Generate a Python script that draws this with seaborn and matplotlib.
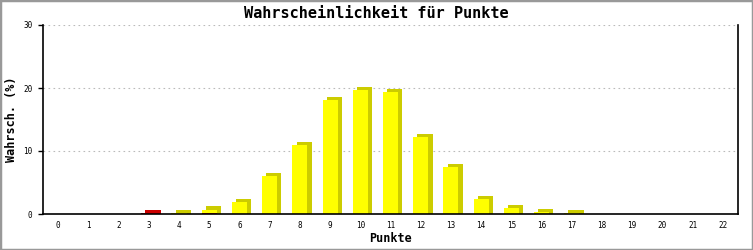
import numpy as np
import pandas as pd
import matplotlib
matplotlib.use("Agg")
import matplotlib.pyplot as plt
import seaborn as sns
from matplotlib.patches import Rectangle

# ---- data ----
punkte = list(range(23))
gelb = [0, 0, 0, 0, 0.1, 0.6, 1.9, 6.0, 11.0, 18.1, 19.7, 19.35, 12.2, 7.4, 2.4, 1.0, 0.25, 0.1, 0, 0, 0, 0, 0]
rot = [0, 0, 0, 0.08, 0, 0.1, 0, 0, 0, 0, 0, 0, 0, 0, 0, 0, 0, 0, 0, 0, 0, 0, 0]
y_ticks = [0, 10, 20, 30]

title = "Wahrscheinlichkeit für Punkte"
xlabel = "Punkte"
ylabel = "Wahrsch. (%)"

sns.set_style("white")
plt.rcParams['font.family'] = ['DejaVu Sans Mono', 'DejaVu Sans']
plt.rcParams.update({"text.color": "black", "axes.labelcolor": "black",
                     "xtick.color": "black", "ytick.color": "black"})

DX, DY = 0.14, 0.5
YELLOW, YELLOW_D = "#FFFF00", "#CCCC00"
RED, RED_D = "#CC0000", "#CC0000"

g = np.array(gelb)
r = np.array(rot)
tot = g + r
df = pd.DataFrame({
    "x": punkte,
    "x_back": np.array(punkte) + DX,
    "total": tot,
    "rot": r,
    "back_y": np.where(g > 0, tot + DY, 0.0),
    "back_r": np.where((g == 0) & (r > 0), tot + DY, 0.0),
})

fig = plt.figure(figsize=(7.53, 2.5), dpi=100)
ax = fig.add_axes([43 / 753, 1 - 214 / 250, (738 - 43) / 753, (214 - 25) / 250])

kw = dict(native_scale=True, width=0.5, linewidth=0, saturation=1, legend=False, errorbar=None)
sns.barplot(data=df, x="x_back", y="back_y", color=YELLOW_D, ax=ax, zorder=2, **kw)
sns.barplot(data=df, x="x_back", y="back_r", color=RED_D, ax=ax, zorder=2, **kw)
sns.barplot(data=df, x="x", y="total", color=YELLOW, ax=ax, zorder=3, **kw)
sns.barplot(data=df, x="x", y="rot", color=RED, ax=ax, zorder=4, **kw)

ax.set_xlim(-0.5, 22.5)
ax.set_ylim(0, 30)
ax.set_xticks(punkte)
ax.set_xticklabels([str(p) for p in punkte])
ax.set_yticks(y_ticks)
ax.set_yticklabels([str(t) for t in y_ticks])
ax.tick_params(axis="x", length=0, pad=5, labelsize=5.5)
ax.tick_params(axis="y", length=3.6, width=1, pad=4, labelsize=5.5, left=True, direction="out")

for yv in y_ticks[1:]:
    ax.axhline(yv, color="#BBBBBB", lw=0.8, dashes=(1.5, 3), zorder=1)

for s in ["left", "bottom", "right"]:
    ax.spines[s].set_visible(True)
    ax.spines[s].set_color("black")
    ax.spines[s].set_linewidth(1.2)
ax.spines["top"].set_visible(False)
ax.spines["bottom"].set_zorder(5)

ax.set_xlabel(xlabel, fontsize=8.5, fontweight="bold")
ax.set_ylabel(ylabel, fontsize=8.5, fontweight="bold")
ax.xaxis.set_label_coords(0.5, -(239 - 214) / 189, transform=ax.transAxes)
ax.yaxis.set_label_coords(-(43 - 12) / 695, 0.5, transform=ax.transAxes)
ax.xaxis.label.set_va("center")
ax.yaxis.label.set_va("center")
fig.text(0.5, 1 - 13 / 250, title, ha="center", va="center", fontsize=11, fontweight="bold")

fig.patches.append(Rectangle((0, 0), 1, 1, transform=fig.transFigure, fill=False,
                             edgecolor="#999999", linewidth=2.5))

fig.savefig("out.png", dpi=100, facecolor="white")
